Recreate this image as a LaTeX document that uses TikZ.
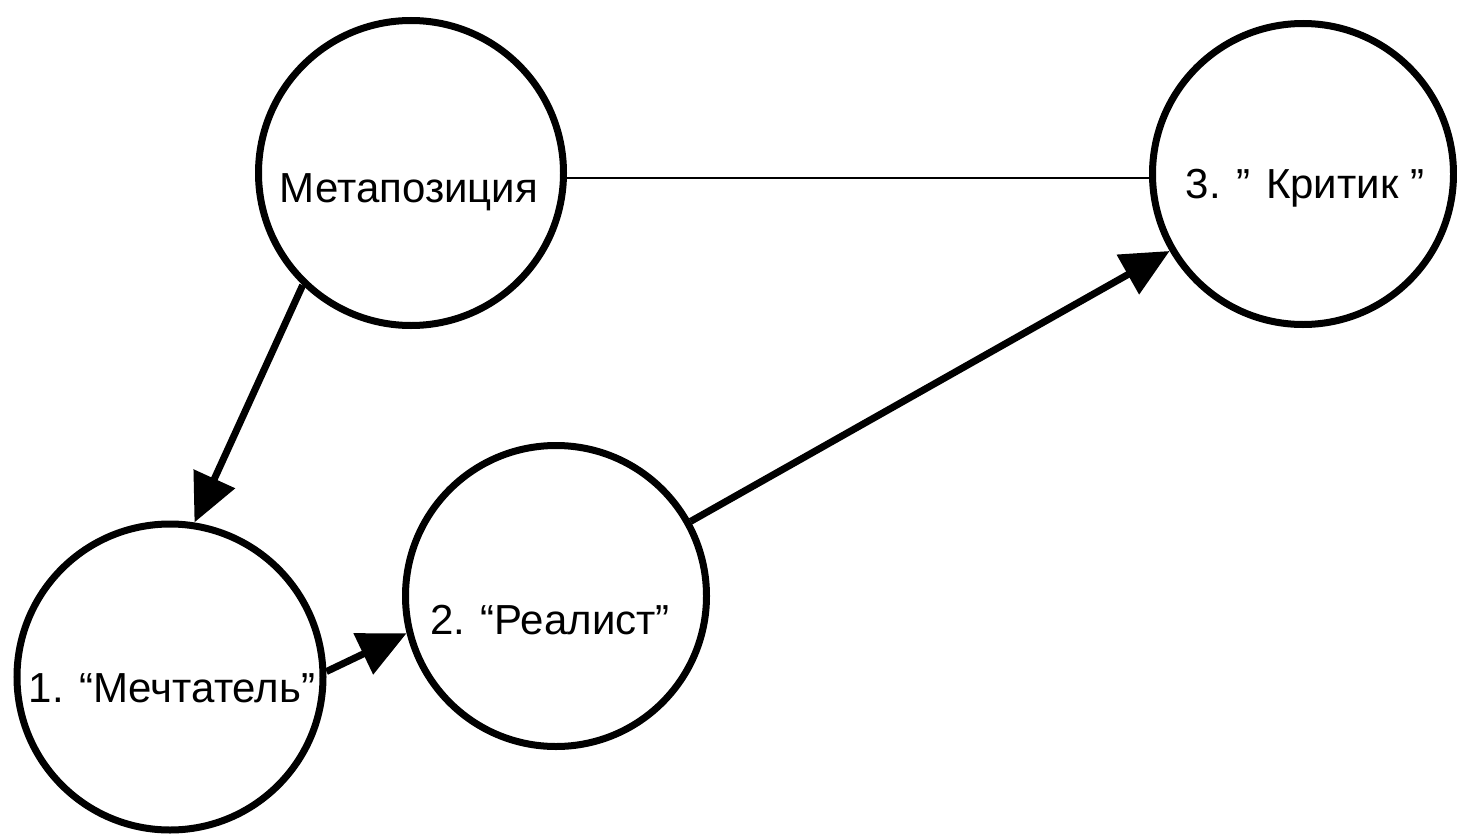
\documentclass[tikz,border=0pt]{standalone}
\usepackage{fontspec}
\setmainfont{Liberation Sans}
\usetikzlibrary{arrows.meta}
\begin{document}
\begin{tikzpicture}[x=1pt,y=-1pt,
  posbox/.style={circle,draw=black,line width=7pt,inner sep=0pt},
  lbl/.style={font=\fontsize{42}{44}\selectfont,anchor=base,inner sep=0pt},
  arr/.style={line width=7pt,-{Triangle[length=48pt,width=44pt]}},
  thinline/.style={line width=2pt}]
\useasboundingbox (0,0) rectangle (1457,835);
\node[posbox,minimum size=305pt] (meta) at (411,173) {};
\node[posbox,minimum size=301pt] (krit) at (1303,174) {};
\node[posbox,minimum size=301pt] (real) at (556,596) {};
\node[posbox,minimum size=306pt] (mech) at (170,677) {};
\node[lbl] (tmeta) at (409,202) {Метапозиция};
\node[lbl] (tkrit) at (1305,198) {3. ” Критик ”};
\node[lbl] (treal) at (550,634) {2. “Реалист”};
\node[lbl] (tmech) at (172,702) {1. “Мечтатель”};
\draw[thinline] (meta.-2) -- (meta.-2 -| krit.west);
\draw[arr] (meta.226) -- (mech.81);
\draw[arr] (mech.2) -- (real.194);
\draw[arr] (real.29) -- (krit.210);
\end{tikzpicture}
\end{document}
